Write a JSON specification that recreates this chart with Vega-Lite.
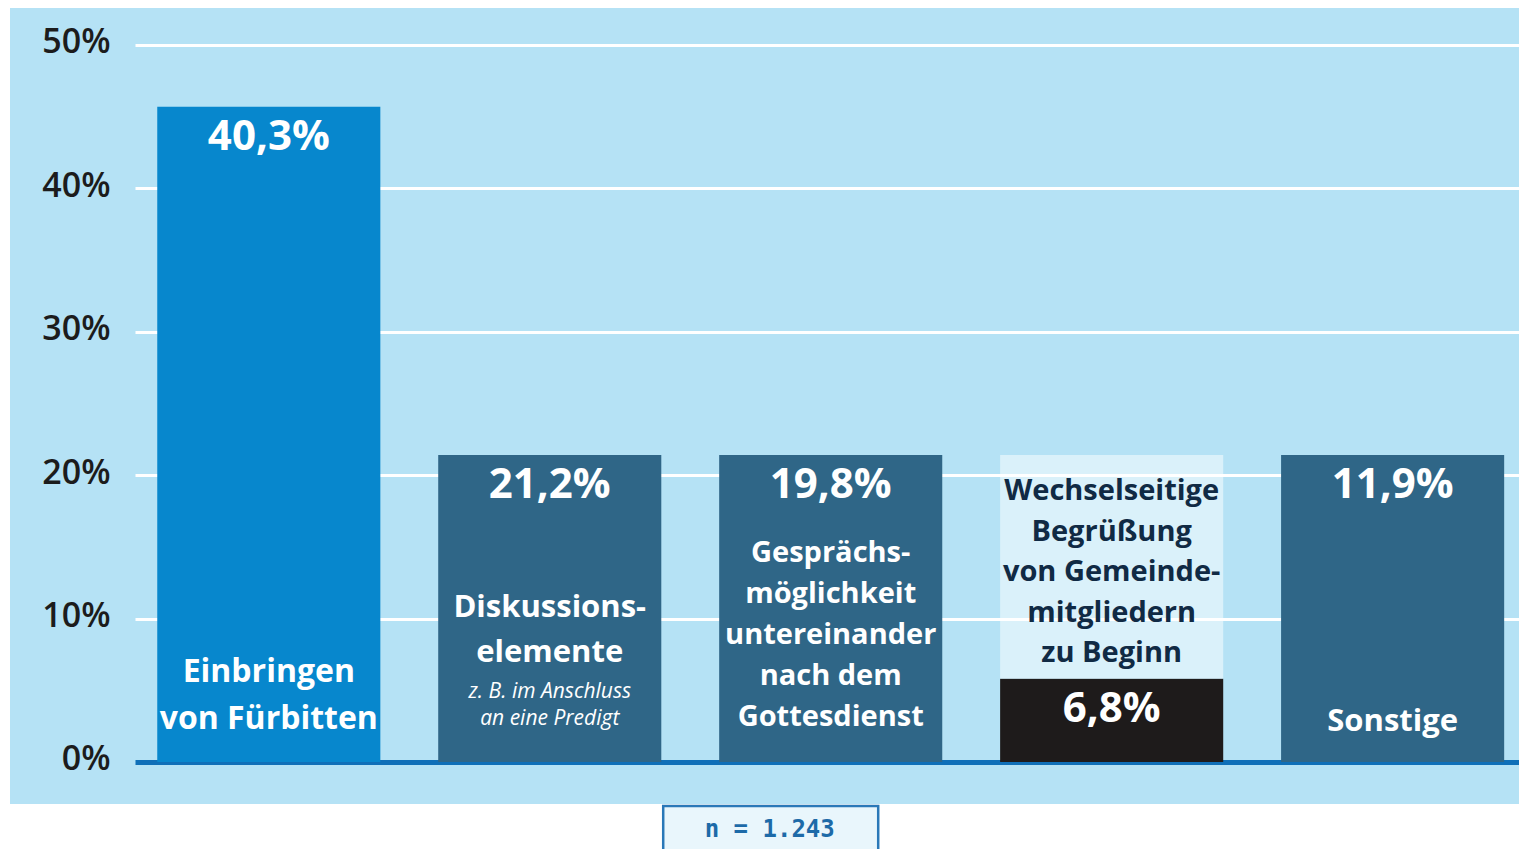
{
  "$schema": "https://vega.github.io/schema/vega-lite/v6.json",
  "width": 1509,
  "height": 841,
  "autosize": {"type": "none"},
  "padding": {"left": 10, "top": 8, "right": 0, "bottom": 0},
  "background": "white",
  "config": {
    "view": {"fill": "#b5e2f5", "stroke": null},
    "font": "Open Sans",
    "locale": {"number": {"decimal": ",", "thousands": ".", "grouping": [3], "currency": ["", " €"]}}
  },
  "data": {
    "values": [
      {"kategorie": "Einbringen von Fürbitten", "anteil": 0.403, "balken": 0.457, "kasten": null, "beschriftung": "Einbringen\nvon Fürbitten", "zusatz": null},
      {"kategorie": "Diskussionselemente", "anteil": 0.212, "balken": 0.214, "kasten": null, "beschriftung": "Diskussions-\nelemente", "zusatz": "z. B. im Anschluss\nan eine Predigt"},
      {"kategorie": "Gesprächsmöglichkeit untereinander nach dem Gottesdienst", "anteil": 0.198, "balken": 0.214, "kasten": null, "beschriftung": "Gesprächs-\nmöglichkeit\nuntereinander\nnach dem\nGottesdienst", "zusatz": null},
      {"kategorie": "Wechselseitige Begrüßung von Gemeindemitgliedern zu Beginn", "anteil": 0.068, "balken": 0.058, "kasten": 0.214, "beschriftung": "Wechselseitige\nBegrüßung\nvon Gemeinde-\nmitgliedern\nzu Beginn", "zusatz": null},
      {"kategorie": "Sonstige", "anteil": 0.119, "balken": 0.214, "kasten": null, "beschriftung": "Sonstige", "zusatz": null}
    ]
  },
  "layer": [
    {
      "mark": {"type": "bar"},
      "encoding": {
        "x": {
          "field": "kategorie", "type": "nominal", "axis": null,
          "scale": {
            "domain": ["Einbringen von Fürbitten", "Diskussionselemente", "Gesprächsmöglichkeit untereinander nach dem Gottesdienst", "Wechselseitige Begrüßung von Gemeindemitgliedern zu Beginn", "Sonstige"],
            "range": [125, 1509], "paddingInner": 0.206, "paddingOuter": 0.066, "align": 0.6
          }
        },
        "y": {
          "field": "balken", "type": "quantitative",
          "scale": {"domain": [-0.0607, 0.5258], "nice": false, "zero": false},
          "axis": {
            "title": null, "domain": false, "ticks": false, "tickSize": 0,
            "values": [0, 0.1, 0.2, 0.3, 0.4, 0.5], "format": ".0%",
            "labelPadding": -100, "labelAlign": "right", "labelBaseline": "middle", "labelOffset": -2,
            "labelFont": "Open Sans", "labelFontSize": 34, "labelFontWeight": 600, "labelColor": "#1c1c1c",
            "grid": true,
            "gridColor": {"condition": {"test": "datum.value === 0", "value": "#0f6fb8"}, "value": "white"},
            "gridWidth": {"condition": {"test": "datum.value === 0", "value": 5}, "value": 3},
            "gridOpacity": 1
          }
        },
        "y2": {"datum": 0},
        "color": {
          "field": "kategorie", "type": "nominal", "legend": null,
          "scale": {
            "domain": ["Einbringen von Fürbitten", "Diskussionselemente", "Gesprächsmöglichkeit untereinander nach dem Gottesdienst", "Wechselseitige Begrüßung von Gemeindemitgliedern zu Beginn", "Sonstige"],
            "range": ["#0787cd", "#2f6687", "#2f6687", "#1e1b1b", "#2f6687"]
          }
        }
      }
    },
    {
      "transform": [{"filter": "datum.kasten != null"}],
      "mark": {"type": "bar", "color": "white", "opacity": 0.5},
      "encoding": {
        "x": {"field": "kategorie", "type": "nominal"},
        "y": {"field": "kasten", "type": "quantitative"},
        "y2": {"field": "balken"}
      }
    },
    {
      "mark": {"type": "text", "align": "center", "baseline": "alphabetic", "dy": 43, "fontSize": 42, "fontWeight": "bold", "color": "white"},
      "encoding": {
        "x": {"field": "kategorie", "type": "nominal"},
        "y": {"field": "balken", "type": "quantitative"},
        "text": {"field": "anteil", "type": "quantitative", "format": ".1%"}
      }
    },
    {
      "transform": [{"filter": {"field": "kategorie", "equal": "Einbringen von Fürbitten"}}],
      "mark": {"type": "text", "align": "center", "baseline": "alphabetic", "dy": -80, "fontSize": 32, "lineHeight": 47, "lineBreak": "\n", "fontWeight": "bold", "color": "white"},
      "encoding": {
        "x": {"field": "kategorie", "type": "nominal"},
        "y": {"datum": 0},
        "text": {"field": "beschriftung"}
      }
    },
    {
      "transform": [{"filter": {"field": "kategorie", "equal": "Diskussionselemente"}}],
      "mark": {"type": "text", "align": "center", "baseline": "alphabetic", "dy": -145, "fontSize": 31, "lineHeight": 45, "lineBreak": "\n", "fontWeight": "bold", "color": "white"},
      "encoding": {
        "x": {"field": "kategorie", "type": "nominal"},
        "y": {"datum": 0},
        "text": {"field": "beschriftung"}
      }
    },
    {
      "transform": [{"filter": "datum.zusatz != null"}],
      "mark": {"type": "text", "align": "center", "baseline": "alphabetic", "dy": -64, "fontSize": 21, "lineHeight": 27, "lineBreak": "\n", "fontStyle": "italic", "color": "white"},
      "encoding": {
        "x": {"field": "kategorie", "type": "nominal"},
        "y": {"datum": 0},
        "text": {"field": "zusatz"}
      }
    },
    {
      "transform": [{"filter": {"field": "kategorie", "equal": "Gesprächsmöglichkeit untereinander nach dem Gottesdienst"}}],
      "mark": {"type": "text", "align": "center", "baseline": "alphabetic", "dy": -200, "fontSize": 29, "lineHeight": 41, "lineBreak": "\n", "fontWeight": "bold", "color": "white"},
      "encoding": {
        "x": {"field": "kategorie", "type": "nominal"},
        "y": {"datum": 0},
        "text": {"field": "beschriftung"}
      }
    },
    {
      "transform": [{"filter": {"field": "kategorie", "equal": "Sonstige"}}],
      "mark": {"type": "text", "align": "center", "baseline": "alphabetic", "dy": -31, "fontSize": 31, "fontWeight": "bold", "color": "white"},
      "encoding": {
        "x": {"field": "kategorie", "type": "nominal"},
        "y": {"datum": 0},
        "text": {"field": "beschriftung"}
      }
    },
    {
      "transform": [{"filter": "datum.kasten != null"}],
      "mark": {"type": "text", "align": "center", "baseline": "alphabetic", "dy": 45, "fontSize": 29, "lineHeight": 40.5, "lineBreak": "\n", "fontWeight": "bold", "color": "#102a44"},
      "encoding": {
        "x": {"field": "kategorie", "type": "nominal"},
        "y": {"field": "kasten", "type": "quantitative"},
        "text": {"field": "beschriftung"}
      }
    },
    {
      "data": {"values": [{"stichprobe": "n = 1.243"}]},
      "mark": {"type": "rect", "color": "white"},
      "encoding": {
        "y": {"datum": -0.0293},
        "y2": {"datum": -0.0607}
      }
    },
    {
      "data": {"values": [{"stichprobe": "n = 1.243"}]},
      "mark": {"type": "bar", "width": 215, "xOffset": -60, "fill": "#e9f6fc", "stroke": "#2a78b8", "strokeWidth": 2.5},
      "encoding": {
        "x": {"datum": "Gesprächsmöglichkeit untereinander nach dem Gottesdienst"},
        "y": {"datum": -0.0307},
        "y2": {"datum": -0.08}
      }
    },
    {
      "data": {"values": [{"stichprobe": "n = 1.243"}]},
      "mark": {"type": "text", "align": "center", "baseline": "alphabetic", "dx": -61, "font": "DejaVu Sans Mono", "fontSize": 24, "fontWeight": "bold", "color": "#1d6aa8"},
      "encoding": {
        "x": {"datum": "Gesprächsmöglichkeit untereinander nach dem Gottesdienst"},
        "y": {"datum": -0.0523},
        "text": {"field": "stichprobe"}
      }
    }
  ]
}
